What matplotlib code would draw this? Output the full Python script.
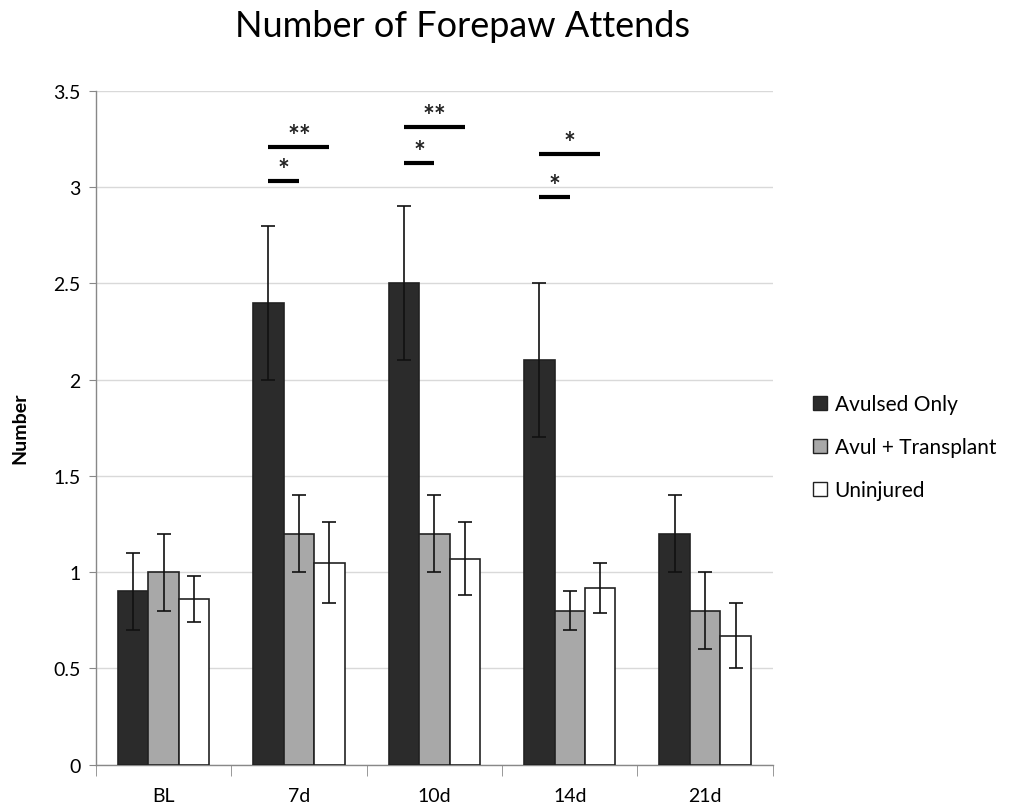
import numpy as np
import matplotlib
matplotlib.use("Agg")
import matplotlib.pyplot as plt
from matplotlib.patches import Patch

plt.rcParams['font.family'] = ['Lato', 'DejaVu Sans']

# data
categories = ['BL', '7d', '10d', '14d', '21d']
series = ['Avulsed Only', 'Avul + Transplant', 'Uninjured']
avulsed = [0.90, 2.40, 2.50, 2.10, 1.20]
avulsed_err = [0.20, 0.40, 0.40, 0.40, 0.20]
transplant = [1.00, 1.20, 1.20, 0.80, 0.80]
transplant_err = [0.20, 0.20, 0.20, 0.10, 0.20]
uninjured = [0.86, 1.05, 1.07, 0.92, 0.67]
uninjured_err = [0.12, 0.21, 0.19, 0.13, 0.17]

# significance bars: (category index, from series, to series, height, label)
sig_bars = [
    (1, 0, 1, 3.03, '*'), (1, 0, 2, 3.21, '**'),
    (2, 0, 1, 3.125, '*'), (2, 0, 2, 3.31, '**'),
    (3, 0, 1, 2.95, '*'), (3, 0, 2, 3.17, '*'),
]

colors = ['#2b2b2b', '#a8a8a8', '#ffffff']
values = [avulsed, transplant, uninjured]
errors = [avulsed_err, transplant_err, uninjured_err]

fig = plt.figure(figsize=(10.09, 8.12), dpi=100)
ax = fig.add_axes([0.095, 0.057, 0.671, 0.830])

x = np.arange(len(categories))
w = 0.225
for i in range(3):
    ax.bar(x + (i - 1) * w, values[i], w, color=colors[i], edgecolor='#222222',
           linewidth=1.2, zorder=3)
    ax.errorbar(x + (i - 1) * w, values[i], yerr=errors[i], fmt='none',
                ecolor='#111111', elinewidth=1.2, capsize=5, capthick=1.2, zorder=4)

for ci, s0, s1, h, lab in sig_bars:
    x0 = ci + (s0 - 1) * w
    x1 = ci + (s1 - 1) * w
    ax.plot([x0, x1], [h, h], color='black', lw=3, solid_capstyle='butt', zorder=5)
    ax.text((x0 + x1) / 2, h + 0.015, lab, ha='center', va='baseline', fontsize=20,
            fontweight='bold', color='#222222')

ax.set_xlim(-0.5, len(categories) - 0.5)
ax.set_ylim(0, 3.5)
ax.set_yticks(np.arange(0, 3.51, 0.5))
ax.set_yticklabels(['0', '0.5', '1', '1.5', '2', '2.5', '3', '3.5'])
ax.yaxis.grid(True, color='#d9d9d9', lw=1)
ax.set_axisbelow(True)

ax.set_xticks(x)
ax.set_xticklabels(categories)
ax.set_xticks(np.arange(-0.5, len(categories), 1), minor=True)
ax.tick_params(axis='x', which='major', length=0, pad=16, labelsize=14)
ax.tick_params(axis='x', which='minor', length=8, color='#888888', direction='out')
ax.tick_params(axis='y', length=5, color='#888888', labelsize=14, pad=6)

for side in ['top', 'right']:
    ax.spines[side].set_visible(False)
for side in ['left', 'bottom']:
    ax.spines[side].set_color('#888888')
    ax.spines[side].set_linewidth(1)

ax.set_ylabel('Number', fontsize=14, fontweight='bold', labelpad=18)
fig.suptitle('Number of Forepaw Attends', fontsize=26, x=0.458, y=0.988)

handles = [Patch(facecolor=colors[i], edgecolor='#222222', linewidth=1) for i in range(3)]
fig.legend(handles, series, loc='center left', bbox_to_anchor=(0.787, 0.448),
           frameon=False, fontsize=15, handlelength=0.7, handleheight=0.7,
           handletextpad=0.35, labelspacing=1.1)

fig.savefig('out.png', dpi=100)
